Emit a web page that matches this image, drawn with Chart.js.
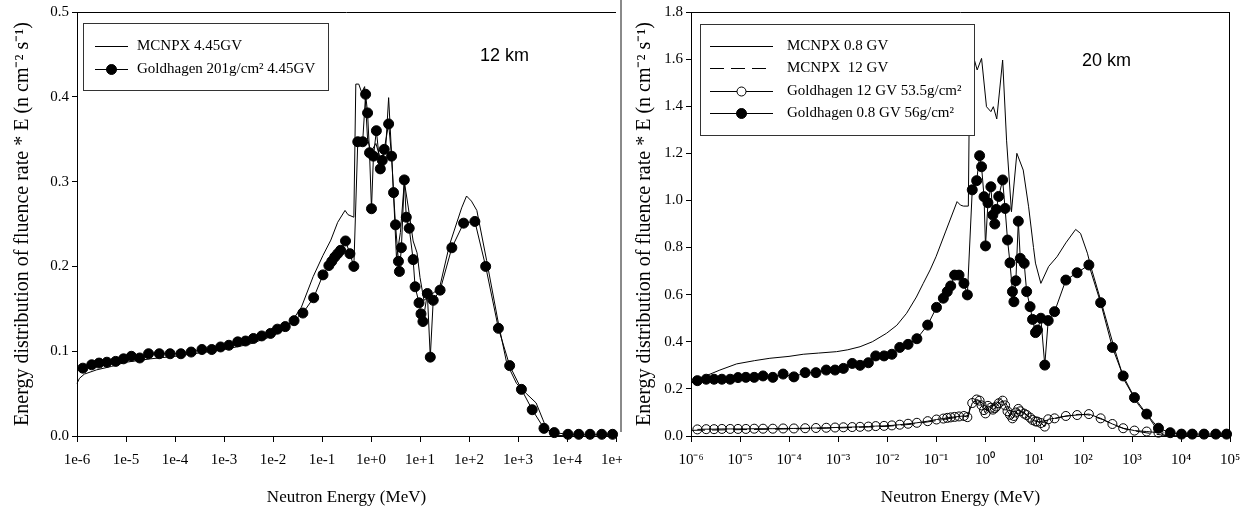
<!DOCTYPE html>
<html>
<head>
    <title>Neutron energy spectra, 12 km and 20 km</title>
    <script src="https://cdn.jsdelivr.net/npm/chart.js@4.4.1/dist/chart.umd.min.js"></script>
    <style>
        body { margin: 0; background: #fff; }
        .panel { position: absolute; top: 0; height: 510px; }
        #left { left: 0; width: 622px; }
        #right { left: 622px; width: 622px; }
    </style>
</head>
<body>
    <div class="panel" id="left"><canvas id="chart12" width="622" height="510"></canvas></div>
    <div class="panel" id="right"><canvas id="chart20" width="622" height="510"></canvas></div>

    <script>
        // energies are log10(E / MeV)

        // --- 12 km panel ---
        const mcnpx445LogE = [
            -6.00, -5.95, -5.85, -5.60, -5.30, -5.00, -4.50, -4.00, -3.50, -3.00,
            -2.50, -2.00, -1.80, -1.63, -1.42, -1.18, -0.98, -0.82, -0.68, -0.53,
            -0.47, -0.35, -0.31, -0.25, -0.19, -0.13, -0.07, 0.00, 0.10, 0.20,
            0.30, 0.36, 0.44, 0.52, 0.60, 0.68, 0.76, 0.86, 0.94, 1.00,
            1.08, 1.20, 1.40, 1.60, 1.85, 1.95, 2.05, 2.16, 2.36, 2.60,
            2.77, 2.97, 3.17, 3.37, 3.51, 3.58, 3.78, 4.00, 5.00
        ];
        const mcnpx445Val = [
            0.062, 0.068, 0.073, 0.078, 0.082, 0.087, 0.091, 0.094, 0.098, 0.102,
            0.108, 0.118, 0.125, 0.134, 0.152, 0.188, 0.213, 0.231, 0.252, 0.266,
            0.261, 0.258, 0.415, 0.415, 0.405, 0.412, 0.350, 0.335, 0.345, 0.325,
            0.340, 0.399, 0.310, 0.210, 0.240, 0.300, 0.270, 0.230, 0.216, 0.187,
            0.160, 0.165, 0.175, 0.225, 0.269, 0.283, 0.277, 0.266, 0.207, 0.133,
            0.086, 0.062, 0.050, 0.039, 0.019, 0.009, 0.001, 0.000, 0.000
        ];

        const gold201LogE = [
            -5.88, -5.70, -5.55, -5.39, -5.21, -5.05, -4.89, -4.72, -4.54, -4.32,
            -4.10, -3.88, -3.67, -3.45, -3.25, -3.07, -2.90, -2.72, -2.56, -2.40,
            -2.23, -2.05, -1.91, -1.75, -1.57, -1.39, -1.17, -0.98, -0.86, -0.80,
            -0.74, -0.68, -0.62, -0.52, -0.43, -0.35, -0.27, -0.17, -0.11, -0.07,
            -0.03, 0.01, 0.05, 0.11, 0.19, 0.23, 0.27, 0.36, 0.42, 0.46,
            0.50, 0.56, 0.58, 0.62, 0.68, 0.72, 0.78, 0.86, 0.90, 0.98,
            1.02, 1.06, 1.15, 1.21, 1.27, 1.41, 1.65, 1.89, 2.12, 2.34,
            2.60, 2.83, 3.07, 3.29, 3.53, 3.74, 4.02, 4.24, 4.47, 4.71,
            4.93
        ];
        const gold201Val = [
            0.080, 0.084, 0.086, 0.087, 0.088, 0.091, 0.094, 0.092, 0.097, 0.097,
            0.097, 0.097, 0.099, 0.102, 0.102, 0.105, 0.107, 0.111, 0.112, 0.115,
            0.118, 0.121, 0.126, 0.129, 0.136, 0.145, 0.163, 0.190, 0.201, 0.206,
            0.211, 0.215, 0.219, 0.230, 0.215, 0.200, 0.347, 0.347, 0.403, 0.381,
            0.334, 0.268, 0.330, 0.360, 0.315, 0.325, 0.338, 0.368, 0.330, 0.287,
            0.249, 0.206, 0.194, 0.222, 0.302, 0.258, 0.245, 0.208, 0.176, 0.157,
            0.144, 0.135, 0.168, 0.093, 0.160, 0.172, 0.222, 0.251, 0.253, 0.200,
            0.127, 0.083, 0.055, 0.031, 0.009, 0.004, 0.002, 0.002, 0.002, 0.002,
            0.002
        ];

        // --- 20 km panel ---
        const mcnpx08LogE = [
            -6.00, -5.70, -5.41, -5.07, -4.70, -4.39, -4.00, -3.71, -3.40, -3.03,
            -2.80, -2.55, -2.30, -2.01, -1.80, -1.60, -1.40, -1.26, -1.12, -1.00,
            -0.80, -0.57, -0.50, -0.44, -0.34, -0.31, -0.22, -0.16, -0.07, 0.03,
            0.12, 0.17, 0.24, 0.36, 0.44, 0.54, 0.65, 0.78, 0.89, 0.99,
            1.03, 1.14, 1.30, 1.47, 1.65, 1.85, 1.95, 2.09, 2.16, 2.36,
            2.63, 2.84, 3.11, 3.38, 3.52, 3.65, 4.00, 5.00
        ];
        const mcnpx08Val = [
            0.224, 0.255, 0.280, 0.306, 0.320, 0.330, 0.338, 0.347, 0.352, 0.358,
            0.366, 0.379, 0.400, 0.436, 0.470, 0.521, 0.590, 0.648, 0.705, 0.761,
            0.870, 0.995, 0.980, 0.976, 0.976, 1.610, 1.599, 1.554, 1.603, 1.398,
            1.377, 1.398, 1.346, 1.596, 1.256, 0.952, 1.200, 1.129, 0.973, 0.800,
            0.734, 0.648, 0.720, 0.761, 0.820, 0.877, 0.860, 0.776, 0.719, 0.577,
            0.379, 0.238, 0.139, 0.068, 0.025, 0.004, 0.000, 0.000
        ];

        const mcnpx12LogE = [
            -6.00, -5.00, -4.00, -3.00, -2.00, -1.50, -1.00, -0.70, -0.40, -0.33,
            -0.30, -0.15, -0.05, 0.05, 0.15, 0.25, 0.35, 0.45, 0.55, 0.65,
            0.80, 0.95, 1.10, 1.30, 1.60, 1.90, 2.10, 2.40, 2.60, 2.85,
            3.10, 3.40, 3.65, 4.00, 5.00
        ];
        const mcnpx12Val = [
            0.024, 0.027, 0.030, 0.034, 0.041, 0.050, 0.065, 0.075, 0.085, 0.088,
            0.140, 0.150, 0.140, 0.120, 0.125, 0.140, 0.165, 0.130, 0.090, 0.110,
            0.100, 0.070, 0.060, 0.068, 0.082, 0.092, 0.090, 0.070, 0.050, 0.030,
            0.020, 0.010, 0.003, 0.000, 0.000
        ];

        const gold08LogE = [
            -5.87, -5.69, -5.53, -5.37, -5.20, -5.04, -4.88, -4.71, -4.53, -4.33,
            -4.12, -3.90, -3.67, -3.45, -3.24, -3.06, -2.89, -2.71, -2.55, -2.38,
            -2.23, -2.06, -1.90, -1.74, -1.57, -1.39, -1.17, -0.99, -0.85, -0.77,
            -0.70, -0.62, -0.53, -0.43, -0.36, -0.26, -0.17, -0.11, -0.07, -0.02,
            0.01, 0.06, 0.12, 0.16, 0.20, 0.23, 0.28, 0.36, 0.41, 0.46,
            0.51, 0.56, 0.59, 0.63, 0.68, 0.72, 0.80, 0.85, 0.92, 0.97,
            1.03, 1.07, 1.14, 1.22, 1.29, 1.42, 1.65, 1.88, 2.12, 2.36,
            2.60, 2.82, 3.05, 3.30, 3.54, 3.78, 4.01, 4.23, 4.47, 4.71,
            4.93
        ];
        const gold08Val = [
            0.235, 0.241, 0.241, 0.241, 0.241, 0.248, 0.249, 0.249, 0.255, 0.249,
            0.263, 0.251, 0.269, 0.269, 0.280, 0.280, 0.287, 0.308, 0.300, 0.311,
            0.340, 0.340, 0.347, 0.376, 0.389, 0.413, 0.471, 0.546, 0.585, 0.613,
            0.637, 0.683, 0.683, 0.648, 0.599, 1.045, 1.084, 1.190, 1.143, 1.016,
            0.807, 0.990, 1.058, 0.938, 0.900, 0.962, 1.017, 1.087, 0.966, 0.832,
            0.735, 0.613, 0.570, 0.659, 0.912, 0.754, 0.733, 0.613, 0.549, 0.495,
            0.439, 0.450, 0.500, 0.301, 0.490, 0.528, 0.662, 0.693, 0.726, 0.566,
            0.376, 0.255, 0.163, 0.093, 0.033, 0.014, 0.008, 0.008, 0.008, 0.008,
            0.008
        ];

        // 12 GV data share the energy bins of the 0.8 GV data up to ~3.5e3 MeV
        const gold12LogE = gold08LogE.slice(0, 75);
        const gold12Val = [
            0.028, 0.029, 0.029, 0.030, 0.030, 0.030, 0.030, 0.031, 0.031, 0.031,
            0.032, 0.032, 0.033, 0.034, 0.035, 0.036, 0.037, 0.038, 0.039, 0.040,
            0.042, 0.043, 0.045, 0.048, 0.052, 0.056, 0.063, 0.070, 0.074, 0.077,
            0.079, 0.081, 0.083, 0.085, 0.080, 0.140, 0.155, 0.150, 0.130, 0.110,
            0.096, 0.128, 0.120, 0.112, 0.118, 0.125, 0.139, 0.150, 0.130, 0.105,
            0.090, 0.075, 0.085, 0.100, 0.115, 0.105, 0.095, 0.089, 0.078, 0.068,
            0.062, 0.061, 0.055, 0.040, 0.071, 0.075, 0.085, 0.089, 0.093, 0.075,
            0.051, 0.033, 0.023, 0.019, 0.014
        ];

        // axis ticks
        const decades = [-6, -5, -4, -3, -2, -1, 0, 1, 2, 3, 4, 5];
        const leftTickLabels = ['1e-6', '1e-5', '1e-4', '1e-3', '1e-2', '1e-1',
                                '1e+0', '1e+1', '1e+2', '1e+3', '1e+4', '1e+5'];
        const rightTickLabels = ['10\u207B\u2076', '10\u207B\u2075', '10\u207B\u2074', '10\u207B\u00B3',
                                 '10\u207B\u00B2', '10\u207B\u00B9', '10\u2070', '10\u00B9',
                                 '10\u00B2', '10\u00B3', '10\u2074', '10\u2075'];

        const SERIF = '"Liberation Serif", "Times New Roman", serif';
        const SANS = '"Liberation Sans", Arial, sans-serif';
        const Y_TITLE = 'Energy distribution of fluence rate * E (n cm\u207B\u00B2 s\u207B\u00B9)';

        function pts(logE, vals) {
            return logE.map((e, i) => ({ x: Math.pow(10, e), y: vals[i] }));
        }

        function lineSet(label, logE, vals, dash) {
            return {
                label: label, data: pts(logE, vals),
                borderColor: '#000', borderWidth: 1, borderDash: dash || [],
                pointRadius: 0, fill: false, tension: 0, clip: false
            };
        }

        function dotSet(label, logE, vals, filled, r) {
            return {
                label: label, data: pts(logE, vals),
                borderColor: '#000', borderWidth: 1,
                pointRadius: r, pointHoverRadius: r,
                pointBackgroundColor: filled ? '#000' : 'rgba(0,0,0,0)',
                pointBorderColor: '#000', pointBorderWidth: 1,
                fill: false, tension: 0, clip: false
            };
        }

        // frame, in-plot legend and altitude label
        function panelPlugin(cfg) {
            return {
                id: 'panel',
                afterDraw(chart) {
                    const ctx = chart.ctx;
                    const a = chart.chartArea;
                    ctx.save();
                    ctx.strokeStyle = '#000';
                    ctx.lineWidth = 1;
                    ctx.beginPath();
                    ctx.moveTo(a.left, a.top + 0.5);
                    ctx.lineTo(a.right, a.top + 0.5);
                    if (cfg.rightBorder) {
                        ctx.moveTo(a.right - 0.5, a.top);
                        ctx.lineTo(a.right - 0.5, a.bottom);
                    }
                    ctx.stroke();

                    if (cfg.greyEdge) {
                        ctx.fillStyle = '#8a8a8a';
                        ctx.fillRect(620, 0, 2, 432);
                    }

                    // legend
                    const L = cfg.legend;
                    ctx.fillStyle = '#fff';
                    ctx.fillRect(L.box[0], L.box[1], L.box[2], L.box[3]);
                    ctx.strokeStyle = '#333';
                    ctx.strokeRect(L.box[0] + 0.5, L.box[1] + 0.5, L.box[2], L.box[3]);
                    ctx.font = '15px ' + SERIF;
                    ctx.textBaseline = 'middle';
                    ctx.textAlign = 'left';
                    chart.data.datasets.forEach((ds, i) => {
                        const y = L.rows[i];
                        ctx.strokeStyle = '#000';
                        ctx.setLineDash(ds.borderDash || []);
                        ctx.beginPath();
                        ctx.moveTo(L.x1, y + 0.5);
                        ctx.lineTo(L.x2, y + 0.5);
                        ctx.stroke();
                        ctx.setLineDash([]);
                        if (ds.pointRadius > 0) {
                            ctx.beginPath();
                            ctx.arc((L.x1 + L.x2) / 2, y + 0.5, ds.pointRadius, 0, Math.PI * 2);
                            ctx.fillStyle = ds.pointBackgroundColor === '#000' ? '#000' : '#fff';
                            ctx.fill();
                            ctx.stroke();
                        }
                        ctx.fillStyle = '#000';
                        ctx.fillText(ds.label, L.textX, y);
                    });

                    ctx.font = '18px ' + SANS;
                    ctx.fillText(cfg.tag.text, cfg.tag.x, cfg.tag.y);
                    ctx.restore();
                }
            };
        }

        function makeChart(id, cfg) {
            const ctx = document.getElementById(id).getContext('2d');
            return new Chart(ctx, {
                type: 'line',
                data: { datasets: cfg.datasets },
                options: {
                    responsive: false,
                    animation: false,
                    layout: { padding: cfg.padding },
                    plugins: { legend: { display: false }, tooltip: { enabled: false } },
                    scales: {
                        x: {
                            type: 'logarithmic',
                            min: 1e-6,
                            max: 1e5,
                            afterBuildTicks: s => { s.ticks = decades.map(d => ({ value: Math.pow(10, d) })); },
                            afterFit: s => { s.height = 74; s.paddingLeft = 0; s.paddingRight = 0; },
                            ticks: {
                                autoSkip: false, maxRotation: 0, padding: 9, color: '#000',
                                font: { family: SERIF, size: 15 },
                                callback: (v, i) => cfg.xLabels[i]
                            },
                            grid: { drawOnChartArea: false, tickLength: 6, color: '#000' },
                            border: { color: '#000', width: 1 },
                            title: {
                                display: true, text: 'Neutron Energy (MeV)', color: '#000',
                                font: { family: SERIF, size: 17 }, padding: { top: 0, bottom: 2 }
                            }
                        },
                        y: {
                            min: 0,
                            max: cfg.yMax,
                            afterFit: s => { s.width = cfg.yWidth; s.paddingTop = 0; s.paddingBottom = 0; },
                            ticks: {
                                stepSize: cfg.yStep, padding: 3, color: '#000',
                                font: { family: SERIF, size: 15 },
                                callback: v => v.toFixed(1)
                            },
                            grid: { drawOnChartArea: false, tickLength: 5, color: '#000' },
                            border: { color: '#000', width: 1 },
                            title: {
                                display: true, text: Y_TITLE, color: '#000',
                                font: { family: SERIF, size: 20 }, padding: { top: 11, bottom: 0 }
                            }
                        }
                    }
                },
                plugins: [panelPlugin(cfg)]
            });
        }

        makeChart('chart12', {
            datasets: [
                lineSet('MCNPX 4.45GV', mcnpx445LogE, mcnpx445Val),
                dotSet('Goldhagen 201g/cm\u00B2 4.45GV', gold201LogE, gold201Val, true, 5)
            ],
            padding: { top: 12, right: 1, left: 0, bottom: 0 },
            yMax: 0.5, yStep: 0.1, yWidth: 77,
            xLabels: leftTickLabels,
            rightBorder: false, greyEdge: true,
            legend: { box: [83, 23, 245, 67], rows: [46, 69], x1: 95, x2: 128, textX: 137 },
            tag: { text: '12 km', x: 480, y: 56 }
        });

        makeChart('chart20', {
            datasets: [
                lineSet('MCNPX 0.8 GV', mcnpx08LogE, mcnpx08Val),
                lineSet('MCNPX  12 GV', mcnpx12LogE, mcnpx12Val, [14, 7]),
                dotSet('Goldhagen 12 GV 53.5g/cm\u00B2', gold12LogE, gold12Val, false, 4.5),
                dotSet('Goldhagen 0.8 GV 56g/cm\u00B2', gold08LogE, gold08Val, true, 5)
            ],
            padding: { top: 12, right: 14, left: 0, bottom: 0 },
            yMax: 1.8, yStep: 0.2, yWidth: 69,
            xLabels: rightTickLabels,
            rightBorder: true, greyEdge: false,
            legend: { box: [78, 24, 274, 111], rows: [46, 68, 91, 113], x1: 88, x2: 151, textX: 165 },
            tag: { text: '20 km', x: 460, y: 61 }
        });
    </script>
</body>
</html>
